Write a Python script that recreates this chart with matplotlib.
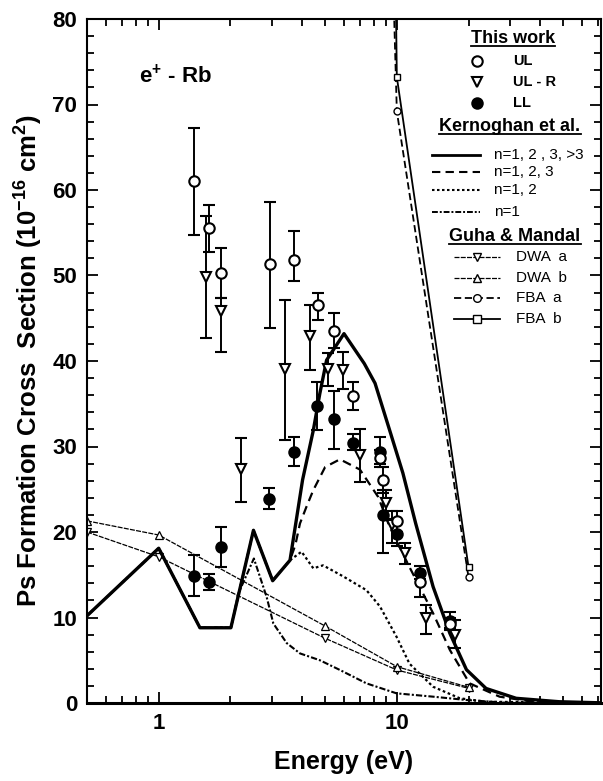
import matplotlib
matplotlib.use('Agg')
import matplotlib.pyplot as plt
import numpy as np
from matplotlib.ticker import MultipleLocator, LogLocator, NullFormatter, FixedLocator, FixedFormatter

plt.rcParams['font.family'] = ['Liberation Sans', 'DejaVu Sans']
plt.rcParams['mathtext.fontset'] = 'custom'
plt.rcParams['mathtext.rm'] = 'Liberation Sans'
plt.rcParams['mathtext.bf'] = 'Liberation Sans:bold'

# ---- this work: upper limit (UL), upper limit - R (UL-R), lower limit (LL)
ul_E = [1.41, 1.62, 1.83, 2.93, 3.70, 4.65, 5.44, 6.52, 8.49, 8.76, 10.0, 12.5, 16.8]
ul_s = [61.0, 55.5, 50.3, 51.3, 51.8, 46.5, 43.5, 35.9, 28.6, 26.1, 21.3, 14.1, 9.2]
ul_lo = [54.7, 52.8, 47.4, 43.9, 49.4, 44.8, 41.5, 34.3, 27.6, 24.6, 20.0, 12.4, 8.5]
ul_hi = [67.2, 58.2, 53.2, 58.6, 55.2, 48.0, 45.6, 37.5, 29.6, 27.6, 22.4, 15.0, 10.0]

ulr_E = [1.58, 1.82, 2.21, 3.39, 4.32, 5.15, 5.96, 7.0, 8.99, 9.5, 10.8, 13.3, 17.5]
ulr_s = [49.8, 45.8, 27.4, 39.1, 42.9, 39.1, 38.9, 29.0, 23.4, 20.8, 17.6, 9.9, 8.0]
ulr_lo = [42.7, 41.0, 23.5, 30.8, 38.9, 37.1, 36.7, 25.8, 21.5, 18.7, 16.3, 8.1, 6.4]
ulr_hi = [57.0, 47.4, 31.0, 47.1, 46.5, 40.9, 41.0, 32.1, 24.9, 22.4, 18.7, 11.5, 9.7]

ll_E = [1.41, 1.62, 1.83, 2.91, 3.69, 4.63, 5.43, 6.52, 8.49, 8.76, 10.0, 12.5, 16.8]
ll_s = [14.9, 14.1, 18.3, 23.9, 29.4, 34.7, 33.2, 30.4, 29.4, 22.0, 19.8, 15.2, 9.6]
ll_lo = [12.5, 13.2, 15.9, 22.7, 27.7, 31.9, 29.7, 29.6, 28.0, 17.6, 18.4, 14.5, 8.8]
ll_hi = [17.3, 15.1, 20.6, 25.2, 31.1, 37.5, 36.5, 31.5, 31.1, 24.9, 21.0, 16.0, 10.7]

# ---- Kernoghan et al.
k4_E = [0.5, 1.0, 1.49, 2.01, 2.5, 3.01, 3.56, 4.02, 4.46, 4.75, 5.07, 6.0, 7.3, 8.1,
        9.33, 10.6, 12.0, 14.2, 16.7, 19.6, 23.7, 31.7, 48.0, 72.0]
k4_s = [10.2, 18.1, 8.8, 8.8, 20.2, 14.3, 16.7, 26.1, 31.9, 36.2, 40.1, 43.2, 39.7, 37.4,
        31.9, 26.9, 21.0, 13.6, 8.15, 3.9, 1.7, 0.55, 0.15, 0.02]

k3_E = [0.5, 1.0, 1.49, 2.01, 2.5, 3.01, 3.56, 3.75, 3.92, 4.18, 4.46, 5.0, 5.77, 7.0,
        8.35, 9.33, 11.3, 14.2, 16.7, 20.2, 27.0, 37.2, 72.0]
k3_s = [10.2, 18.1, 8.8, 8.8, 20.2, 14.3, 16.7, 18.5, 21.0, 23.0, 24.9, 27.6, 28.5, 27.3,
        24.1, 20.6, 15.9, 10.5, 6.2, 2.3, 0.74, 0.15, 0.0]

k2_E = [0.5, 1.0, 1.49, 2.01, 2.5, 3.01, 3.56, 3.98, 4.46, 4.9, 5.96, 7.45, 8.49, 9.97,
        11.3, 14.2, 18.4, 23.7, 72.0]
k2_s = [10.2, 18.1, 8.8, 8.8, 20.2, 14.3, 16.7, 17.7, 15.75, 16.1, 14.8, 13.2, 11.3, 7.75,
        4.6, 1.9, 0.55, 0.15, 0.0]

k1_E = [0.5, 1.0, 1.49, 2.01, 2.16, 2.51, 2.84, 3.03, 3.45, 3.92, 4.75, 5.77, 7.45, 9.97,
        14.2, 19.6, 28.8, 72.0]
k1_s = [10.2, 18.1, 8.8, 8.8, 12.8, 16.9, 12.4, 9.3, 7.0, 5.8, 5.0, 3.86, 2.3, 1.13,
        0.74, 0.35, 0.03, 0.0]

# ---- Guha & Mandal
dwa_E = [0.5, 1.0, 5.0, 10.0, 20.0]
dwa_a = [20.0, 17.1, 7.57, 3.86, 1.72]
dwa_b = [21.3, 19.65, 9.0, 4.25, 1.84]
fba_E = [9.0, 10.0, 20.0]
fba_a = [114.0, 69.2, 14.7]
fba_b = [175.0, 73.2, 15.9]

W, H = 603, 781
L, R, T, B = 87, 601, 19, 703
fig = plt.figure(figsize=(W / 100, H / 100), dpi=100)
ax = fig.add_axes([L / W, (H - B) / H, (R - L) / W, (B - T) / H])


def fx(px):
    return (px - L) / (R - L)


def fy(py):
    return (B - py) / (B - T)


# Guha & Mandal curves
g_dash = (0, (4, 1))
ax.plot(dwa_E, dwa_a, color='k', lw=0.9, ls=g_dash, marker='v', ms=5.5, mfc='white', mec='k', mew=0.9)
ax.plot(dwa_E, dwa_b, color='k', lw=0.9, ls=g_dash, marker='^', ms=5.5, mfc='white', mec='k', mew=0.9)
ax.plot(fba_E, fba_a, color='k', lw=1.3, ls=(0, (4, 2)), marker='o', ms=5, mfc='white', mec='k', mew=1.0)
ax.plot(fba_E, fba_b, color='k', lw=1.3, ls='-', marker='s', ms=5, mfc='white', mec='k', mew=1.0)

# Kernoghan et al. curves
ax.plot(k1_E, k1_s, color='k', lw=1.5, ls=(0, (3, 1, 1, 1)))
ax.plot(k2_E, k2_s, color='k', lw=1.6, ls=(0, (1.2, 1.2)))
ax.plot(k3_E, k3_s, color='k', lw=1.6, ls=(0, (4, 2.5)))
ax.plot(k4_E, k4_s, color='k', lw=2.4, ls='-')

# this work
eb = dict(ecolor='k', elinewidth=1.4, capsize=4, capthick=1.4, ls='none', mec='k', mew=1.5)
ax.errorbar(ll_E, ll_s, yerr=[np.subtract(ll_s, ll_lo), np.subtract(ll_hi, ll_s)],
            fmt='o', ms=7.5, mfc='k', **eb)
ax.errorbar(ulr_E, ulr_s, yerr=[np.subtract(ulr_s, ulr_lo), np.subtract(ulr_hi, ulr_s)],
            fmt='v', ms=7.5, mfc='white', **eb)
ax.errorbar(ul_E, ul_s, yerr=[np.subtract(ul_s, ul_lo), np.subtract(ul_hi, ul_s)],
            fmt='o', ms=7.5, mfc='white', **eb)

# axes
ax.set_xscale('log')
ax.set_xlim(0.5, 72)
ax.set_ylim(0, 80)
ax.xaxis.set_major_locator(FixedLocator([1, 10]))
ax.xaxis.set_major_formatter(FixedFormatter(['1', '10']))
ax.xaxis.set_minor_locator(LogLocator(base=10, subs=np.arange(2, 10)))
ax.xaxis.set_minor_formatter(NullFormatter())
ax.yaxis.set_major_locator(MultipleLocator(10))
ax.yaxis.set_minor_locator(MultipleLocator(2))
ax.tick_params(which='both', direction='in', top=True, right=True, width=1.3)
ax.tick_params(which='major', length=8, labelsize=16, pad=7)
ax.tick_params(which='minor', length=5)
for lab in ax.get_xticklabels() + ax.get_yticklabels():
    lab.set_fontweight('bold')
for s in ax.spines.values():
    s.set_linewidth(1.5)
ax.spines['bottom'].set_linewidth(2.2)

ax.set_xlabel('Energy (eV)', fontsize=18, fontweight='bold', labelpad=12)
ax.set_ylabel(r'Ps Formation Cross  Section (10$^{\mathbf{-16}}$ cm$^{\mathbf{2}}$)',
              fontsize=18.5, fontweight='bold', labelpad=6)

ax.text(fx(175), fy(76), r'e$^{\mathbf{+}}$ - Rb', transform=ax.transAxes,
        fontsize=16, fontweight='bold', ha='center', va='center')

# ---- legend drawn by hand
tr = ax.transAxes
titles = []
titles.append(ax.text(fx(513), fy(38.5), 'This work', transform=tr, fontsize=13,
                      fontweight='bold', ha='center', va='center'))
titles.append(ax.text(fx(510), fy(126.7), 'Kernoghan et al.', transform=tr, fontsize=13,
                      fontweight='bold', ha='center', va='center'))
titles.append(ax.text(fx(515), fy(236.7), 'Guha & Mandal', transform=tr, fontsize=13,
                      fontweight='bold', ha='center', va='center'))

tw_rows = [(60.7, 'o', 'white', 'UL'), (81.7, 'v', 'white', 'UL - R'), (102.7, 'o', 'k', 'LL')]
for py, m, fc, lab in tw_rows:
    ax.plot([fx(476.7)], [fy(py)], transform=tr, marker=m, ms=7.5, mfc=fc, mec='k', mew=1.5,
            ls='none', clip_on=False)
    ax.text(fx(513), fy(py), lab, transform=tr, fontsize=10.5, fontweight='bold', va='center')

k_rows = [(155, '-', 2.0, 'n=1, 2 , 3, >3'), (172.3, (0, (4, 2.5)), 1.5, 'n=1, 2, 3'),
          (190, (0, (1.2, 1.2)), 1.5, 'n=1, 2'), (211.7, (0, (3, 1, 1, 1)), 1.4, 'n=1')]
for py, ls, lw, lab in k_rows:
    ax.plot([fx(431.7), fx(480)], [fy(py), fy(py)], transform=tr, color='k', ls=ls, lw=lw,
            clip_on=False)
    ax.text(fx(494.3), fy(py), lab, transform=tr, fontsize=11, va='center')

g_rows = [(257.3, g_dash, 0.9, 'v', 'DWA  a'), (278.3, g_dash, 0.9, '^', 'DWA  b'),
          (298.3, (0, (4, 2)), 1.3, 'o', 'FBA  a'), (319, '-', 1.3, 's', 'FBA  b')]
for py, ls, lw, m, lab in g_rows:
    ax.plot([fx(454), fx(500)], [fy(py), fy(py)], transform=tr, color='k', ls=ls, lw=lw,
            clip_on=False)
    ax.plot([fx(477.3)], [fy(py)], transform=tr, marker=m, ms=5.5, mfc='white', mec='k',
            mew=1.0, ls='none', clip_on=False)
    ax.text(fx(516), fy(py), lab, transform=tr, fontsize=11, va='center')

# underline the legend titles
fig.canvas.draw()
inv = ax.transAxes.inverted()
for t in titles:
    bb = t.get_window_extent()
    (x0, y0), (x1, y1) = inv.transform([[bb.x0, bb.y0], [bb.x1, bb.y1]])
    ax.plot([x0, x1], [y0 + 0.002, y0 + 0.002], transform=tr, color='k', lw=1.3, clip_on=False)

fig.savefig('out.png', dpi=100)
